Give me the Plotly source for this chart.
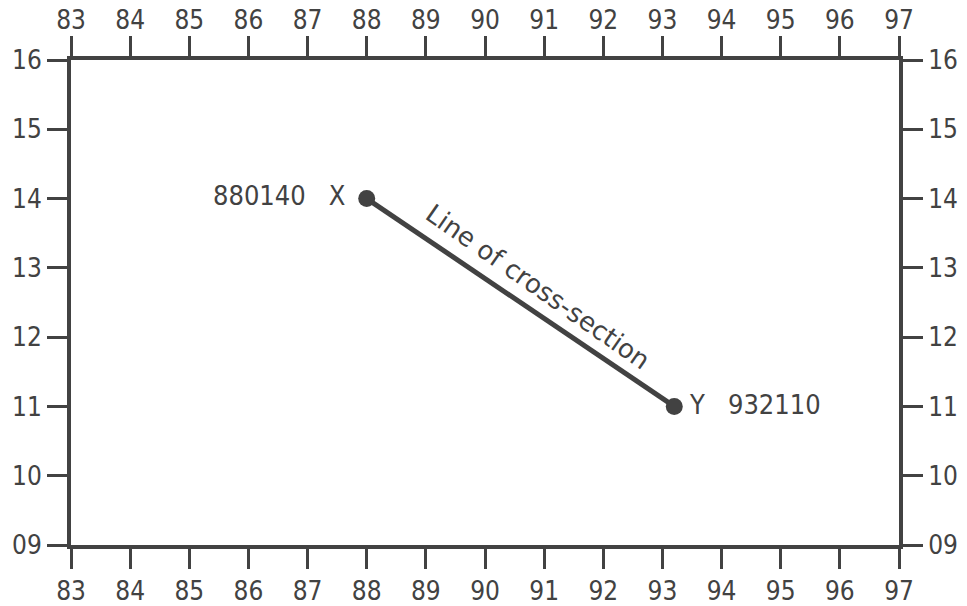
import plotly.graph_objects as go

x_ticks = list(range(83, 98))
y_ticks = list(range(9, 17))
y_ticklabels = ["%02d" % v for v in y_ticks]

point_names = ["X", "Y"]
point_refs = ["880140", "932110"]
point_east = [88.0, 93.2]
point_north = [14.0, 11.0]
line_label = "Line of cross-section"

ink = "#424242"
tick_font = dict(family="DejaVu Sans Condensed, DejaVu Sans", size=26, color=ink)
label_font = dict(family="DejaVu Sans Condensed, DejaVu Sans", size=27, color=ink)

fig = go.Figure()
fig.add_trace(go.Scatter(x=point_east, y=point_north, mode="lines+markers",
                         line=dict(color=ink, width=5),
                         marker=dict(color=ink, size=17), hoverinfo="skip",
                         showlegend=False))
fig.add_trace(go.Scatter(x=[x_ticks[0]], y=[y_ticks[0]], xaxis="x2", yaxis="y2",
                         mode="markers", marker=dict(opacity=0), showlegend=False,
                         hoverinfo="skip"))

fig.add_annotation(x=point_east[0], y=point_north[0],
                   text=point_refs[0] + "&nbsp;&nbsp;&nbsp;" + point_names[0],
                   showarrow=False, xanchor="right", xshift=-20, yshift=3, font=label_font)
fig.add_annotation(x=point_east[1], y=point_north[1],
                   text=point_names[1] + "&nbsp;&nbsp;&nbsp;" + point_refs[1],
                   showarrow=False, xanchor="left", xshift=13, yshift=2, font=label_font)
fig.add_annotation(x=(point_east[0] + point_east[1]) / 2, y=(point_north[0] + point_north[1]) / 2,
                   text=line_label, showarrow=False, textangle=35,
                   xshift=18, yshift=16,
                   font=dict(family="DejaVu Sans", size=26, color=ink))

axis_common = dict(showgrid=False, zeroline=False, showline=True, linecolor=ink,
                   linewidth=4, ticks="outside", ticklen=20, tickwidth=2.5,
                   tickcolor=ink, tickfont=tick_font, fixedrange=True,
                   automargin=False)

fig.update_layout(
    width=967, height=606,
    margin=dict(l=71, r=68, t=60, b=61),
    paper_bgcolor="white", plot_bgcolor="white",
    xaxis=dict(range=[x_ticks[0], x_ticks[-1]], tickvals=x_ticks, side="bottom", **axis_common),
    xaxis2=dict(range=[x_ticks[0], x_ticks[-1]], tickvals=x_ticks, side="top",
                overlaying="x", ticklabelstandoff=-3, **axis_common),
    yaxis=dict(range=[y_ticks[0], y_ticks[-1]], tickvals=y_ticks, ticktext=y_ticklabels,
               side="left", **axis_common),
    yaxis2=dict(range=[y_ticks[0], y_ticks[-1]], tickvals=y_ticks, ticktext=y_ticklabels,
                side="right", overlaying="y", **axis_common),
)

fig.write_html("out.html", config={"displayModeBar": False},
               post_script="document.body.style.margin='0';document.body.style.overflow='hidden';")
